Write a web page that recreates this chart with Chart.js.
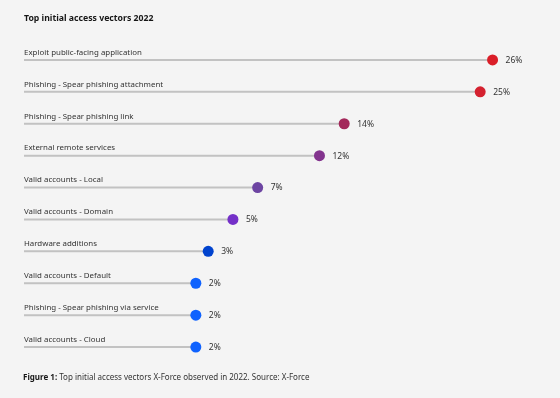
<!DOCTYPE html>
<html>
<head>
<meta charset="utf-8">
<script src="https://cdn.jsdelivr.net/npm/chart.js@4/dist/chart.umd.min.js"></script>
<style>
html,body{margin:0;padding:0;background:#f4f4f4;}
#wrap{position:relative;width:560px;height:398px;}
</style>
</head>
<body>
<div id="wrap"><canvas id="c" width="560" height="398"></canvas></div>
<script>
const categories = [
  "Exploit public-facing application",
  "Phishing - Spear phishing attachment",
  "Phishing - Spear phishing link",
  "External remote services",
  "Valid accounts - Local",
  "Valid accounts - Domain",
  "Hardware additions",
  "Valid accounts - Default",
  "Phishing - Spear phishing via service",
  "Valid accounts - Cloud"
];
const values = [26, 25, 14, 12, 7, 5, 3, 2, 2, 2];
const valueLabels = ["26%", "25%", "14%", "12%", "7%", "5%", "3%", "2%", "2%", "2%"];
const dotColors = ["#da1e28", "#d4212f", "#a3285a", "#83348e", "#6d45a2", "#7430c8", "#0043ce", "#0f62fe", "#0f62fe", "#0f62fe"];
const title = "Top initial access vectors 2022";
const captionBold = "Figure 1:";
const captionText = " Top initial access vectors X-Force observed in 2022. Source: X-Force";

const AXIS_MIN = -11.9;
const FONT = "'Noto Sans', sans-serif";

const textPlugin = {
  id: 'texts',
  afterDraw(chart) {
    const ctx = chart.ctx;
    const xs = chart.scales.x, ys = chart.scales.y;
    const left = chart.chartArea.left;
    ctx.save();
    ctx.textBaseline = 'middle';
    ctx.textAlign = 'left';
    ctx.fillStyle = '#161616';
    ctx.font = "bold 8.7px " + FONT;
    ctx.fillText(title, left, 19);
    categories.forEach((c, i) => {
      const y = ys.getPixelForValue(i);
      ctx.fillStyle = '#333333';
      ctx.font = "7.9px " + FONT;
      ctx.fillText(c, left, y - 7.5);
      ctx.fillStyle = '#333333';
      ctx.font = "8.5px " + FONT;
      ctx.fillText(valueLabels[i], xs.getPixelForValue(values[i]) + 13, y + 0.5);
    });
    ctx.font = "bold 8px " + FONT;
    ctx.fillStyle = '#161616';
    ctx.fillText(captionBold, 23, 378);
    const w = ctx.measureText(captionBold).width;
    ctx.font = "8px " + FONT;
    ctx.fillStyle = '#333333';
    ctx.fillText(captionText, 23 + w, 378);
    ctx.restore();
  }
};

new Chart(document.getElementById('c'), {
  type: 'bar',
  data: {
    labels: categories,
    datasets: [
      {
        type: 'line',
        indexAxis: 'y',
        data: values,
        showLine: false,
        pointRadius: 5.5,
        pointHoverRadius: 5.5,
        pointBorderWidth: 0,
        pointBackgroundColor: dotColors,
        pointBorderColor: dotColors,
        order: 0
      },
      {
        type: 'bar',
        data: values.map(v => [AXIS_MIN, v]),
        backgroundColor: '#c2c2c2',
        barThickness: 1.3,
        borderWidth: 0,
        order: 1
      }
    ]
  },
  options: {
    indexAxis: 'y',
    responsive: false,
    animation: false,
    events: [],
    layout: { padding: { left: 24, right: 18, top: 44, bottom: 35 } },
    plugins: { legend: { display: false }, tooltip: { enabled: false } },
    scales: {
      x: { type: 'linear', min: AXIS_MIN, max: 30, display: false },
      y: { type: 'category', offset: true, display: false }
    }
  },
  plugins: [textPlugin]
});
</script>
</body>
</html>
